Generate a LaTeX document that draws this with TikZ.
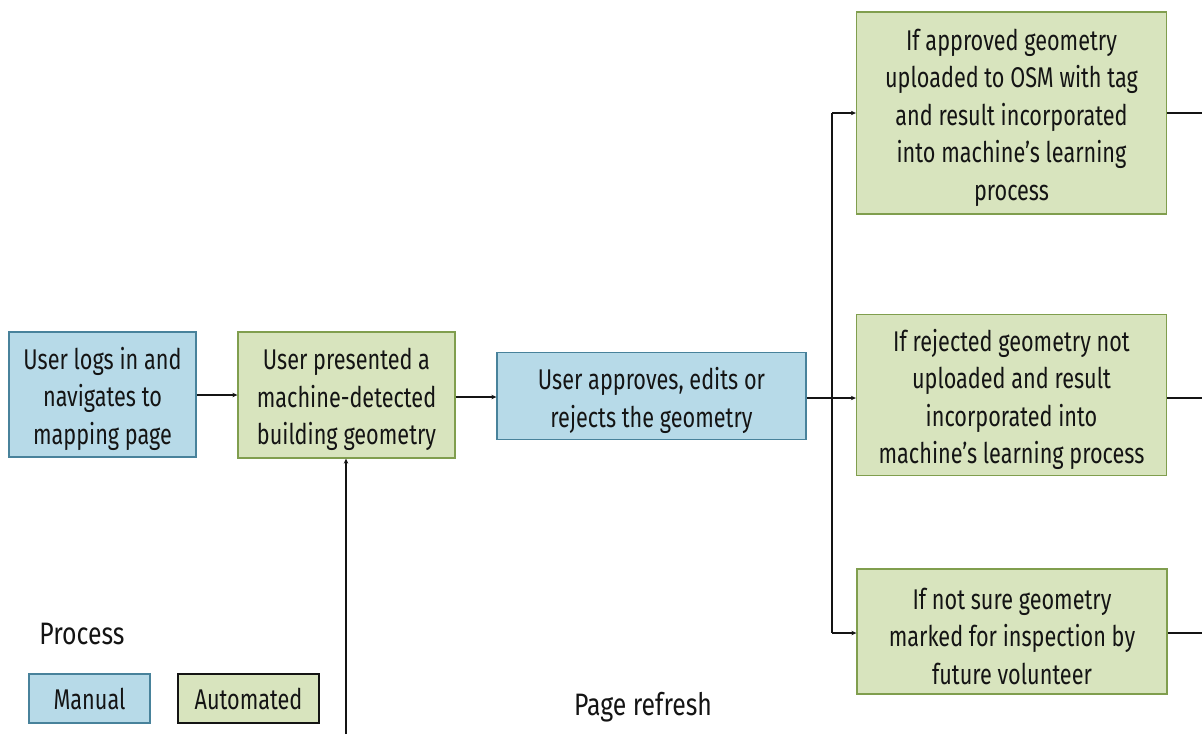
\documentclass[tikz,border=0pt]{standalone}
\usepackage{fontspec}
\setmainfont{Fira Sans}[FakeStretch=0.76]
\newfontfamily\lblfont{Fira Sans}[FakeStretch=0.8]
\usetikzlibrary{arrows.meta}
\definecolor{manfill}{RGB}{183,218,232}
\definecolor{mandraw}{RGB}{72,130,155}
\definecolor{autofill}{RGB}{216,228,190}
\definecolor{autodraw}{RGB}{128,158,78}
\definecolor{txt}{RGB}{20,20,20}
\newcommand\tstrut{\rule{0pt}{31pt}}
\tikzset{
  boxbase/.style={align=center, inner sep=2pt, line width=1.3pt, text=txt,
    font=\fontsize{28.5}{37.5}\selectfont},
  manual/.style={boxbase, fill=manfill, draw=mandraw},
  auto/.style={boxbase, fill=autofill, draw=autodraw},
  conn/.style={line width=1.8pt, draw=txt, -{Stealth[length=5pt,width=4.5pt]}},
  plain/.style={line width=1.8pt, draw=txt},
  lbl/.style={text=txt, font=\lblfont\fontsize{31}{37.5}\selectfont}
}
\begin{document}
\begin{tikzpicture}[x=1pt,y=-1pt]
\useasboundingbox (0,0) rectangle (1202,734);
\node[manual, minimum width=187pt, minimum height=125pt] (A) at (102.5,394.5) {\tstrut User logs in and\\navigates to\\mapping page};
\node[auto, minimum width=217pt, minimum height=126pt] (B) at (346.5,395) {\tstrut User presented a\\machine-detected\\building geometry};
\node[manual, minimum width=309pt, minimum height=87pt] (C) at (651.5,396) {\tstrut User approves, edits or\\rejects the geometry};
\node[auto, minimum width=310pt, minimum height=202pt] (D1) at (1011.5,113) {\tstrut If approved geometry\\uploaded to OSM with tag\\and result incorporated\\into machine’s learning\\process};
\node[auto, minimum width=310pt, minimum height=161pt] (D2) at (1011.5,395) {\tstrut If rejected geometry not\\uploaded and result\\incorporated into\\machine’s learning process};
\node[auto, minimum width=310pt, minimum height=125pt] (D3) at (1012,631.5) {\tstrut If not sure geometry\\marked for inspection by\\future volunteer};

\node[lbl] (proc) at (82,634) {Process};
\node[manual, minimum width=121pt, minimum height=49pt] (L1) at (89.5,698.5) {Manual};
\node[auto, draw=txt, line width=1.1pt, minimum width=141pt, minimum height=49pt] (L2) at (248.5,698.5) {Automated};
\node[lbl] (pr) at (643,707) {Page refresh};

\coordinate (J) at (832,398);
\coordinate (J1) at (832,113);
\coordinate (J3) at (832,633);
\coordinate (E1) at (1202,113);
\coordinate (E2) at (1202,398);
\coordinate (E3) at (1202,633);
\coordinate (Bot) at (346,734);

\draw[conn] (A.east |- 0,395) -- (B.west |- 0,395);
\draw[conn] (B.east |- 0,397) -- (C.west |- 0,397);
\draw[conn] (C.east |- J) -- (D2.west |- J);
\draw[plain] (J1) -- (J3);
\draw[conn] (J1) -- (D1.west |- J1);
\draw[conn] (J3) -- (D3.west |- J3);
\draw[plain] (D1.east |- E1) -- (E1);
\draw[plain] (D2.east |- E2) -- (E2);
\draw[plain] (D3.east |- E3) -- (E3);
\draw[conn] (Bot) -- (Bot |- B.south);
\end{tikzpicture}
\end{document}
